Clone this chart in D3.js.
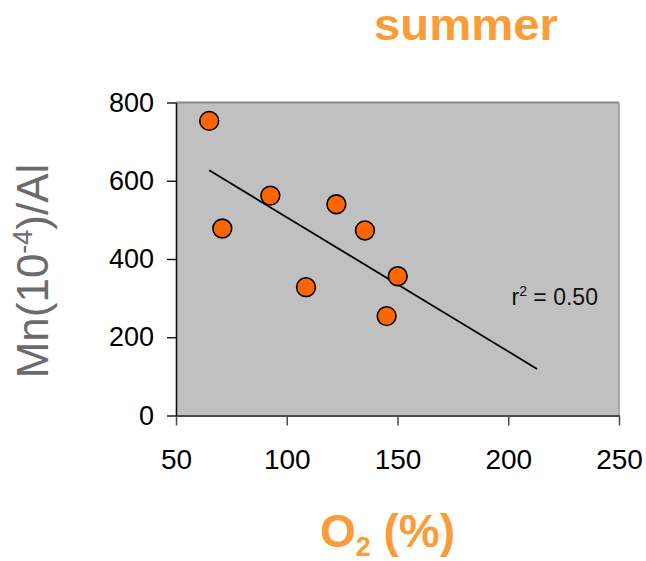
<!DOCTYPE html>
<html>
<head>
<meta charset="utf-8">
<script src="https://cdn.jsdelivr.net/npm/d3@7"></script>
<style>
  html, body { margin: 0; padding: 0; background: #ffffff; }
  svg { display: block; font-family: "Liberation Sans", Arial, Helvetica, sans-serif; }
</style>
</head>
<body>
<svg id="chart" width="646" height="561"></svg>
<script>
// Summer samples: dissolved O2 saturation vs Mn/Al ratio
const o2Values = [65, 70.9, 92.6, 108.7, 122.4, 135.3, 145.1, 150.1];
const mnAlValues = [753, 478, 562, 328, 540, 473, 254, 356];

const xTicks = [50, 100, 150, 200, 250];
const yTicks = [0, 200, 400, 600, 800];

// extent over which the linear fit is drawn
const trendRange = [65, 213];
const rSquaredLabel = "0.50";

const titleText = "summer";
const orange = "#fb9c38";

const svg = d3.select("#chart");

const x = d3.scaleLinear().domain([50, 250]).range([176, 619]);
const y = d3.scaleLinear().domain([0, 800]).range([415.5, 102.5]);

// plot background
svg.append("rect")
  .attr("x", x(50)).attr("y", y(800))
  .attr("width", x(250) - x(50)).attr("height", y(0) - y(800))
  .attr("fill", "#c0c0c0");

// top and right frame edges
svg.append("line")
  .attr("x1", x(50)).attr("x2", x(250)).attr("y1", y(800)).attr("y2", y(800))
  .attr("stroke", "#858585").attr("stroke-width", 2);
svg.append("line")
  .attr("x1", x(250)).attr("x2", x(250)).attr("y1", y(800)).attr("y2", y(0))
  .attr("stroke", "#9a9a9a").attr("stroke-width", 1.5);

// x axis
const gx = svg.append("g")
  .attr("transform", `translate(0,${y(0)})`)
  .call(d3.axisBottom(x).tickValues(xTicks).tickSize(10).tickSizeOuter(0).tickPadding(24));
gx.select(".domain").attr("stroke", "#4a4a4a").attr("stroke-width", 2);
gx.selectAll(".tick line").attr("stroke", "#4a4a4a").attr("stroke-width", 1.5);
gx.selectAll(".tick text")
  .attr("font-size", 28).attr("fill", "#000")
  .attr("font-family", "Liberation Sans, Arial, sans-serif");

// y axis
const gy = svg.append("g")
  .attr("transform", `translate(${x(50)},0)`)
  .call(d3.axisLeft(y).tickValues(yTicks).tickSize(9).tickSizeOuter(0).tickPadding(13));
gy.select(".domain").attr("stroke", "#111").attr("stroke-width", 1.6);
gy.selectAll(".tick line").attr("stroke", "#111").attr("stroke-width", 1.4);
gy.selectAll(".tick text")
  .attr("font-size", 27).attr("fill", "#000")
  .attr("font-family", "Liberation Sans, Arial, sans-serif");

// least-squares fit through the samples
const mx = d3.mean(o2Values), my = d3.mean(mnAlValues);
let sxy = 0, sxx = 0;
o2Values.forEach((v, i) => { sxy += (v - mx) * (mnAlValues[i] - my); sxx += (v - mx) * (v - mx); });
const slope = sxy / sxx;
const intercept = my - slope * mx;

svg.append("line")
  .attr("x1", x(trendRange[0])).attr("y1", y(intercept + slope * trendRange[0]))
  .attr("x2", x(trendRange[1])).attr("y2", y(intercept + slope * trendRange[1]))
  .attr("stroke", "#000").attr("stroke-width", 1.8);

// sample points
svg.append("g").selectAll("circle")
  .data(o2Values.map((v, i) => ({ o2: v, ratio: mnAlValues[i] })))
  .join("circle")
  .attr("cx", d => x(d.o2))
  .attr("cy", d => y(d.ratio))
  .attr("r", 9.4)
  .attr("fill", "#ff6600")
  .attr("stroke", "#000")
  .attr("stroke-width", 1.6);

// r² annotation
const rt = svg.append("text")
  .attr("x", 511.5).attr("y", 305)
  .attr("font-size", 23).attr("fill", "#111");
rt.append("tspan").text("r");
rt.append("tspan").attr("font-size", 14).attr("dy", -9).text("2");
rt.append("tspan").attr("dy", 9).text(" = " + rSquaredLabel);

// title
svg.append("text")
  .attr("x", 466).attr("y", 40)
  .attr("text-anchor", "middle")
  .attr("font-size", 44).attr("font-weight", "bold")
  .attr("fill", orange)
  .attr("textLength", 184).attr("lengthAdjust", "spacingAndGlyphs")
  .text(titleText);

// x axis title
const xl = svg.append("text")
  .attr("x", 387.5).attr("y", 547)
  .attr("text-anchor", "middle")
  .attr("font-size", 46).attr("font-weight", "bold")
  .attr("fill", orange);
xl.append("tspan").text("O");
xl.append("tspan").attr("font-size", 27).attr("dy", 9).text("2");
xl.append("tspan").attr("dy", -9).text(" (%)");

// y axis title
const yl = svg.append("text")
  .attr("transform", "translate(48,271) rotate(-90)")
  .attr("text-anchor", "middle")
  .attr("font-size", 44)
  .attr("fill", "#6b6b6b");
yl.append("tspan").text("Mn(10");
yl.append("tspan").attr("font-size", 27).attr("dy", -16).text("-4");
yl.append("tspan").attr("dy", 16).text(")/Al");
</script>
</body>
</html>
